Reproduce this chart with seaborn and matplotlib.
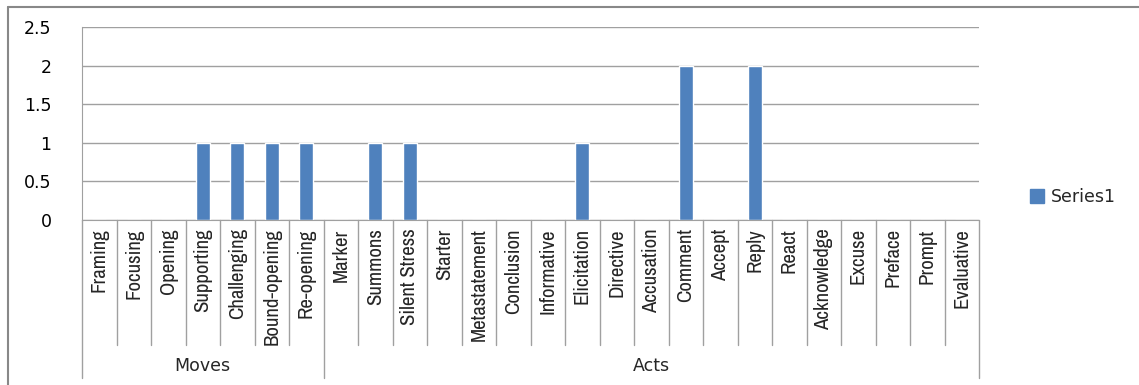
import matplotlib
matplotlib.use("Agg")
import matplotlib.pyplot as plt
import seaborn as sns
import pandas as pd
from matplotlib.lines import Line2D
from matplotlib.patches import Patch
from matplotlib import font_manager

# Data
moves = ['Framing', 'Focusing', 'Opening', 'Supporting', 'Challenging',
         'Bound-opening', 'Re-opening']
acts = ['Marker', 'Summons', 'Silent Stress', 'Starter', 'Metastatement',
        'Conclusion', 'Informative', 'Elicitation', 'Directive', 'Accusation',
        'Comment', 'Accept', 'Reply', 'React', 'Acknowledge', 'Excuse',
        'Preface', 'Prompt', 'Evaluative']
move_values = [0, 0, 0, 1, 1, 1, 1]
act_values = [0, 1, 1, 0, 0, 0, 0, 1, 0, 0, 2, 0, 2, 0, 0, 0, 0, 0, 0]
groups = ['Moves', 'Acts']

df = pd.DataFrame({
    'category': moves + acts,
    'value': move_values + act_values,
    'group': ['Moves'] * len(moves) + ['Acts'] * len(acts),
})

sns.set_style('white')
plt.rcParams['font.family'] = ['DejaVu Sans']

# pick a narrow face for the category labels if one is installed
names = sorted({f.name for f in font_manager.fontManager.ttflist})
narrow = [n for n in names if 'Narrow' in n or 'Condensed' in n]

bar_color = '#4F81BD'
grid_color = '#A0A0A0'

fig = plt.figure(figsize=(11.39, 3.85), dpi=100)
ax = fig.add_axes([82 / 1139, 1 - 220 / 385, (979 - 82) / 1139, 193 / 385])

sns.barplot(data=df, x='category', y='value', color=bar_color, width=0.4,
            saturation=1, ax=ax)

ax.set_ylim(0, 2.5)
ax.set_yticks([0, 0.5, 1, 1.5, 2, 2.5])
ax.set_yticklabels(['0', '0.5', '1', '1.5', '2', '2.5'], fontsize=12.5, color='#000000')
ax.yaxis.grid(True, color=grid_color, linewidth=1)
ax.set_axisbelow(True)
ax.set_xlabel('')
ax.set_ylabel('')
ax.set_xlim(-0.5, len(df) - 0.5)
for s in ['top', 'right']:
    ax.spines[s].set_visible(False)
ax.spines['left'].set_color(grid_color)
ax.spines['bottom'].set_color(grid_color)
ax.tick_params(axis='y', length=0, pad=22)
ax.tick_params(axis='x', length=0, pad=6)

ax.set_xticks(range(len(df)))
ax.set_xticklabels(df['category'], rotation=90, va='top', ha='center',
                   fontsize=15, family=narrow[:1] + ['DejaVu Sans'],
                   fontstretch='condensed')

# category separators and group separators below axis
short_y = -125 / 193
long_y = -158 / 193
n_moves = len(moves)
for i in range(len(df) + 1):
    x = i - 0.5
    y_end = long_y if i in (0, n_moves, len(df)) else short_y
    ax.plot([x, x], [0, y_end], color=grid_color, linewidth=1,
            transform=ax.get_xaxis_transform(), clip_on=False)

label_y = -146 / 193
ax.text((n_moves - 1) / 2, label_y, groups[0], ha='center', va='center',
        fontsize=12.5, transform=ax.get_xaxis_transform())
ax.text(n_moves + (len(acts) - 1) / 2, label_y, groups[1], ha='center',
        va='center', fontsize=12.5, transform=ax.get_xaxis_transform())

# legend
handles = [Patch(facecolor=bar_color, edgecolor=bar_color, label='Series1')]
fig.legend(handles=handles, loc='center left', bbox_to_anchor=(1014 / 1139, 1 - 197 / 385),
           frameon=False, fontsize=12.5, handlelength=0.8, handleheight=0.8,
           handletextpad=0.4)

# outer chart frame (top and left edges)
fig.add_artist(Line2D([8 / 1139, 8 / 1139], [0, 1 - 7 / 385], color='#888888',
                      linewidth=1.5, transform=fig.transFigure))
fig.add_artist(Line2D([8 / 1139, 1], [1 - 7 / 385, 1 - 7 / 385], color='#888888',
                      linewidth=1.5, transform=fig.transFigure))

fig.savefig('out.png', dpi=100)
